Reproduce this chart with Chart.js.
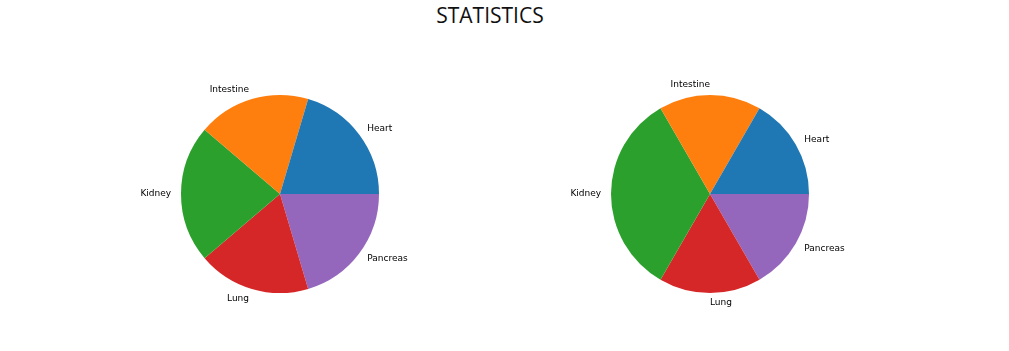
<!DOCTYPE html>
<html>
<head>
<meta charset="utf-8">
<script src="https://cdn.jsdelivr.net/npm/chart.js@4.4.0/dist/chart.umd.min.js"></script>
<style>
  body { margin: 0; background: #fff; }
  #wrap { position: relative; width: 1009px; height: 351px; }
  #titulo {
    position: absolute; left: 0; top: 1px; width: 980px; text-align: center;
    font-family: "Open Sans", sans-serif; font-size: 21px; font-weight: 500; color: #111;
  }
  .caja { position: absolute; top: 0; height: 351px; }
</style>
</head>
<body>
<div id="wrap">
  <div id="titulo">STATISTICS</div>
  <div class="caja" style="left:0;width:505px"><canvas id="graficaA"></canvas></div>
  <div class="caja" style="left:505px;width:504px"><canvas id="graficaB"></canvas></div>
</div>
<script>
// Datos
const organos = ['Heart', 'Intestine', 'Kidney', 'Lung', 'Pancreas'];
const valoresA = [10, 9, 11, 9, 10];
const valoresB = [1, 1, 2, 1, 1];
const colores = ['#1f77b4', '#ff7f0e', '#2ca02c', '#d62728', '#9467bd'];

// Etiquetas afuera del pastel, como matplotlib
const etiquetasFuera = {
  id: 'etiquetasFuera',
  afterDatasetsDraw(chart) {
    const ctx = chart.ctx;
    const meta = chart.getDatasetMeta(0);
    ctx.save();
    ctx.font = '9px "DejaVu Sans"';
    ctx.fillStyle = '#000';
    ctx.textBaseline = 'middle';
    meta.data.forEach((arco, i) => {
      const p = arco.getProps(['x', 'y', 'startAngle', 'endAngle', 'outerRadius'], true);
      const medio = (p.startAngle + p.endAngle) / 2;
      const x = p.x + 1.1 * p.outerRadius * Math.cos(medio);
      const y = p.y + 1.1 * p.outerRadius * Math.sin(medio);
      ctx.textAlign = Math.cos(medio) > 0 ? 'left' : 'right';
      ctx.fillText(chart.data.labels[i], x, y);
    });
    ctx.restore();
  }
};

// Función para generar cada pastel
function generarPastel(id, valores, padding) {
  new Chart(document.getElementById(id), {
    type: 'pie',
    data: {
      // matplotlib va en sentido antihorario, Chart.js en horario
      labels: organos.slice().reverse(),
      datasets: [{
        data: valores.slice().reverse(),
        backgroundColor: colores.slice().reverse(),
        borderWidth: 0
      }]
    },
    options: {
      responsive: true,
      maintainAspectRatio: false,
      animation: false,
      rotation: 90,
      layout: { padding: padding },
      plugins: {
        legend: { display: false },
        tooltip: { enabled: false }
      }
    },
    plugins: [etiquetasFuera]
  });
}

generarPastel('graficaA', valoresA, { left: 181, right: 126, top: 95, bottom: 58 });
generarPastel('graficaB', valoresB, { left: 106, right: 200, top: 95, bottom: 58 });
</script>
</body>
</html>
